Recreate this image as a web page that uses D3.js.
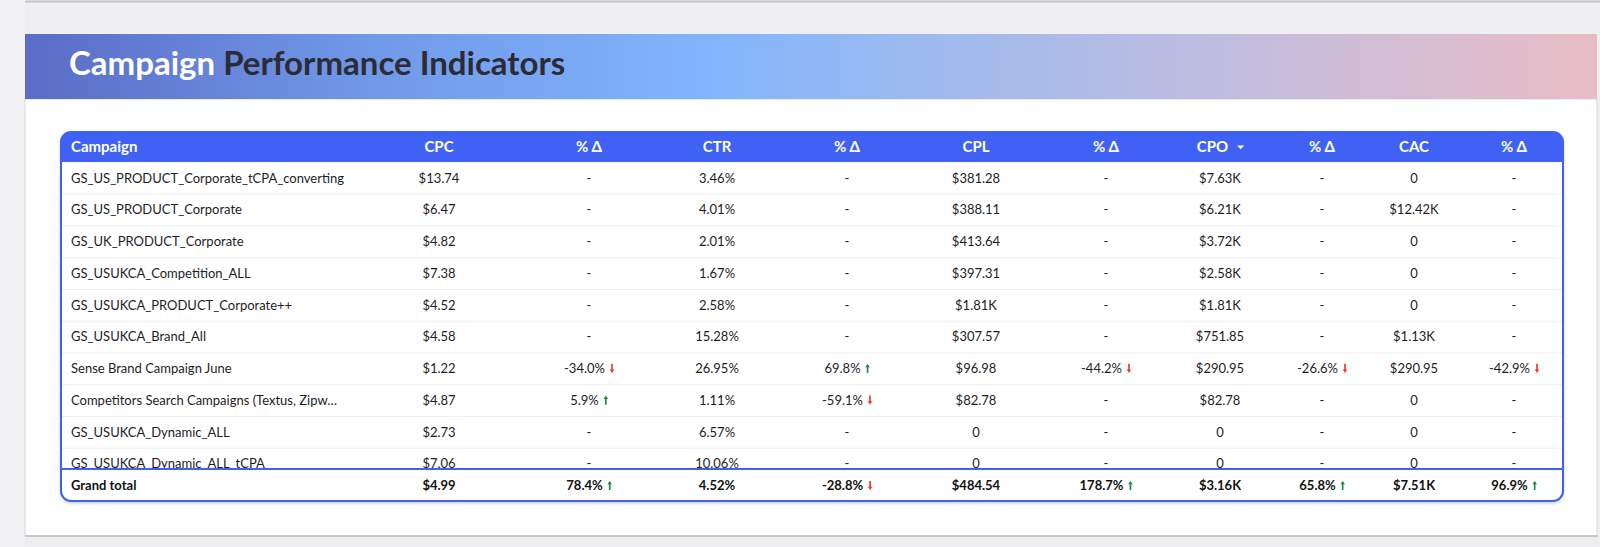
<!DOCTYPE html>
<html>
<head>
<meta charset="utf-8">
<script src="https://cdn.jsdelivr.net/npm/d3@7"></script>
<style>
  html, body { margin: 0; padding: 0; background: #f0eff2; overflow: hidden; }
  svg { display: block; font-family: Lato, "Open Sans", sans-serif; }
</style>
</head>
<body>
<svg id="chart"></svg>
<script>
/* globals d3 */

const width = 1600;
const height = 547;

// ---- data ----
const titleWords = ["Campaign", "Performance Indicators"];
const columnLabels = ["CPC", "% Δ", "CTR", "% Δ", "CPL", "% Δ", "CPO", "% Δ", "CAC", "% Δ"];
const columnKinds = ["money", "delta", "pct", "delta", "money", "delta", "money", "delta", "money", "delta"];
const sortedColumn = 6;

const campaigns = [
  "GS_US_PRODUCT_Corporate_tCPA_converting",
  "GS_US_PRODUCT_Corporate",
  "GS_UK_PRODUCT_Corporate",
  "GS_USUKCA_Competition_ALL",
  "GS_USUKCA_PRODUCT_Corporate++",
  "GS_USUKCA_Brand_All",
  "Sense Brand Campaign June",
  "Competitors Search Campaigns (Textus, Zipw…",
  "GS_USUKCA_Dynamic_ALL",
  "GS_USUKCA_Dynamic_ALL_tCPA"
];
const cpc      = [13.74, 6.47, 4.82, 7.38, 4.52, 4.58, 1.22, 4.87, 2.73, 7.06];
const cpcDelta = [null, null, null, null, null, null, -34.0, 5.9, null, null];
const ctr      = [3.46, 4.01, 2.01, 1.67, 2.58, 15.28, 26.95, 1.11, 6.57, 10.06];
const ctrDelta = [null, null, null, null, null, null, 69.8, -59.1, null, null];
const cpl      = [381.28, 388.11, 413.64, 397.31, 1810, 307.57, 96.98, 82.78, 0, 0];
const cplDelta = [null, null, null, null, null, null, -44.2, null, null, null];
const cpo      = [7630, 6210, 3720, 2580, 1810, 751.85, 290.95, 82.78, 0, 0];
const cpoDelta = [null, null, null, null, null, null, -26.6, null, null, null];
const cac      = [0, 12420, 0, 0, 0, 1130, 290.95, 0, 0, 0];
const cacDelta = [null, null, null, null, null, null, -42.9, null, null, null];

const totalLabel = "Grand total";
const totalValues = [4.99, 78.4, 4.52, -28.8, 484.54, 178.7, 3160, 65.8, 7510, 96.9];

// ---- layout ----
const blue = "#3f62f5";
const tableLeft = 61, tableRight = 1563, tableTop = 132;
const headerH = 30;
const rowH = 31.75;
const bodyBottom = 468;
const totalH = 33;
const nameX = 71;

const columns = [cpc, cpcDelta, ctr, ctrDelta, cpl, cplDelta, cpo, cpoDelta, cac, cacDelta];
const rows = campaigns.map((name, i) => ({name, values: columns.map(c => c[i])}));

const x = d3.scaleOrdinal()
    .domain(d3.range(columnLabels.length))
    .range([439, 589, 717, 847, 976, 1106, 1220, 1322, 1414, 1514]);

const y = d3.scaleBand()
    .domain(d3.range(rows.length))
    .range([tableTop + headerH, tableTop + headerH + rows.length * rowH]);

const f2 = d3.format(".2f");
function fmt(kind, v) {
  if (kind === "delta") return v == null ? "-" : v.toFixed(1) + "%";
  if (kind === "pct") return f2(v) + "%";
  if (v === 0) return "0";
  if (v >= 1000) return "$" + f2(v / 1000) + "K";
  return "$" + f2(v);
}

const svg = d3.select("#chart")
    .attr("width", width)
    .attr("height", height)
    .attr("viewBox", [0, 0, width, height]);

const defs = svg.append("defs");

const grad = defs.append("linearGradient").attr("id", "band")
    .attr("x1", 0).attr("x2", 1).attr("y1", 0).attr("y2", 0);
[["0%", "#5a6cc7"], ["22%", "#7099e8"], ["44%", "#82b5fd"], ["56%", "#9bbaf0"],
 ["72%", "#b8bce3"], ["86%", "#d2bdd5"], ["100%", "#e8bcc5"]]
  .forEach(([o, c]) => grad.append("stop").attr("offset", o).attr("stop-color", c));

const dots = defs.append("pattern").attr("id", "dots")
    .attr("width", 8).attr("height", 8).attr("patternUnits", "userSpaceOnUse");
dots.append("rect").attr("width", 8).attr("height", 8).attr("fill", "#efeef1");
dots.append("circle").attr("cx", 4).attr("cy", 4).attr("r", 0.6).attr("fill", "#dcdbe0");

defs.append("filter").attr("id", "shadow")
    .attr("x", "-5%").attr("y", "-5%").attr("width", "110%").attr("height", "120%")
  .append("feDropShadow")
    .attr("dx", 0).attr("dy", 2).attr("stdDeviation", 2)
    .attr("flood-color", "#000").attr("flood-opacity", 0.22);

defs.append("clipPath").attr("id", "bodyClip")
  .append("rect")
    .attr("x", tableLeft).attr("y", tableTop + headerH)
    .attr("width", tableRight - tableLeft).attr("height", bodyBottom - tableTop - headerH);

// ---- page background ----
svg.append("rect").attr("width", width).attr("height", height).attr("fill", "#f0eff2");
svg.append("rect").attr("x", 25).attr("y", 2).attr("width", width - 25).attr("height", height - 2)
    .attr("fill", "url(#dots)");
svg.append("line").attr("x1", 25).attr("x2", width).attr("y1", 1.5).attr("y2", 1.5)
    .attr("stroke", "#c4c4c6").attr("stroke-width", 2);

// card
svg.append("rect").attr("x", 25).attr("y", 99).attr("width", 1572).attr("height", 437)
    .attr("fill", "#fff").attr("stroke", "#d6d6d8").attr("stroke-width", 1);
svg.append("line").attr("x1", 25).attr("x2", 1598).attr("y1", 536).attr("y2", 536)
    .attr("stroke", "#c8c8ca").attr("stroke-width", 2);

// title band
svg.append("rect").attr("x", 25).attr("y", 34).attr("width", 1572).attr("height", 65)
    .attr("fill", "url(#band)");

const title = svg.append("text")
    .attr("x", 69).attr("y", 75)
    .attr("font-size", 33).attr("font-weight", 700);
title.append("tspan").attr("fill", "#ffffff").text(titleWords[0] + " ");
title.append("tspan").attr("fill", "#2c2b36").text(titleWords[1]);

// ---- table ----
const table = svg.append("g");

table.append("rect")
    .attr("x", tableLeft).attr("y", tableTop)
    .attr("width", tableRight - tableLeft).attr("height", bodyBottom + totalH - tableTop)
    .attr("rx", 10).attr("fill", "#fff")
    .attr("filter", "url(#shadow)");

// header fill: rounded on top only
table.append("rect")
    .attr("x", tableLeft).attr("y", tableTop)
    .attr("width", tableRight - tableLeft).attr("height", headerH)
    .attr("rx", 10).attr("fill", blue);
table.append("rect")
    .attr("x", tableLeft).attr("y", tableTop + 12)
    .attr("width", tableRight - tableLeft).attr("height", headerH - 12)
    .attr("fill", blue);

const headY = tableTop + headerH / 2;
const head = table.append("g")
    .attr("fill", "#fff").attr("font-size", 15).attr("font-weight", 700);

head.append("text")
    .attr("x", nameX).attr("y", headY).attr("dy", "0.36em")
    .text("Campaign");

head.selectAll("g.col")
  .data(columnLabels)
  .join("g")
    .attr("class", "col")
    .each(function(label, i) {
      const g = d3.select(this);
      const t = g.append("text").attr("y", headY).attr("dy", "0.36em").text(label);
      const w = t.node().getComputedTextLength();
      if (i === sortedColumn) {
        const total = w + 15;
        const x0 = x(i) - total / 2;
        t.attr("x", x0);
        g.append("path")
            .attr("d", d3.line()([[x0 + w + 9, headY - 1.5], [x0 + w + 16, headY - 1.5], [x0 + w + 12.5, headY + 2.2]]) + "Z")
            .attr("fill", "#fff");
      } else {
        t.attr("x", x(i)).attr("text-anchor", "middle");
      }
    });

// arrow glyph
function arrow(up) {
  const p = [[0, -4.6], [2.3, -1.2], [0.85, -1.2], [0.85, 4.6], [-0.85, 4.6], [-0.85, -1.2], [-2.3, -1.2]];
  return d3.line()(up ? p : p.map(([a, b]) => [a, -b])) + "Z";
}

function drawCell(g, i, value, cy) {
  const kind = columnKinds[i];
  const label = fmt(kind, value);
  const t = g.append("text").attr("y", cy).attr("dy", "0.36em").text(label);
  if (kind === "delta" && value != null) {
    const w = t.node().getComputedTextLength();
    const total = w + 9;
    const x0 = x(i) - total / 2;
    t.attr("x", x0);
    g.append("path")
        .attr("transform", `translate(${x0 + w + 7},${cy})`)
        .attr("d", arrow(value > 0))
        .attr("fill", value > 0 ? "#1f8a47" : "#ef3b33");
  } else {
    t.attr("x", x(i)).attr("text-anchor", "middle");
  }
}

// body
const body = table.append("g")
    .attr("clip-path", "url(#bodyClip)")
    .attr("font-size", 13).attr("fill", "#1d1d1f");

body.selectAll("line.sep")
  .data(d3.range(1, rows.length))
  .join("line")
    .attr("class", "sep")
    .attr("x1", tableLeft).attr("x2", tableRight)
    .attr("y1", i => y(i) + 0.5).attr("y2", i => y(i) + 0.5)
    .attr("stroke", "#efeff1");

body.selectAll("g.row")
  .data(rows)
  .join("g")
    .attr("class", "row")
    .each(function(row, r) {
      const g = d3.select(this);
      const cy = y(r) + y.bandwidth() / 2;
      g.append("text").attr("x", nameX).attr("y", cy).attr("dy", "0.36em").text(row.name);
      row.values.forEach((v, i) => drawCell(g, i, v, cy));
    });

// grand total
const tot = table.append("g").attr("font-size", 13).attr("font-weight", 700).attr("fill", "#111");
const totY = bodyBottom + totalH / 2 + 1;
tot.append("text").attr("x", nameX).attr("y", totY).attr("dy", "0.36em").text(totalLabel);
totalValues.forEach((v, i) => drawCell(tot, i, v, totY));

table.append("line")
    .attr("x1", tableLeft).attr("x2", tableRight)
    .attr("y1", bodyBottom + 1).attr("y2", bodyBottom + 1)
    .attr("stroke", blue).attr("stroke-width", 2);

// outer border
table.append("rect")
    .attr("x", tableLeft).attr("y", tableTop)
    .attr("width", tableRight - tableLeft).attr("height", bodyBottom + totalH - tableTop)
    .attr("rx", 10).attr("fill", "none")
    .attr("stroke", blue).attr("stroke-width", 2);
</script>
</body>
</html>
